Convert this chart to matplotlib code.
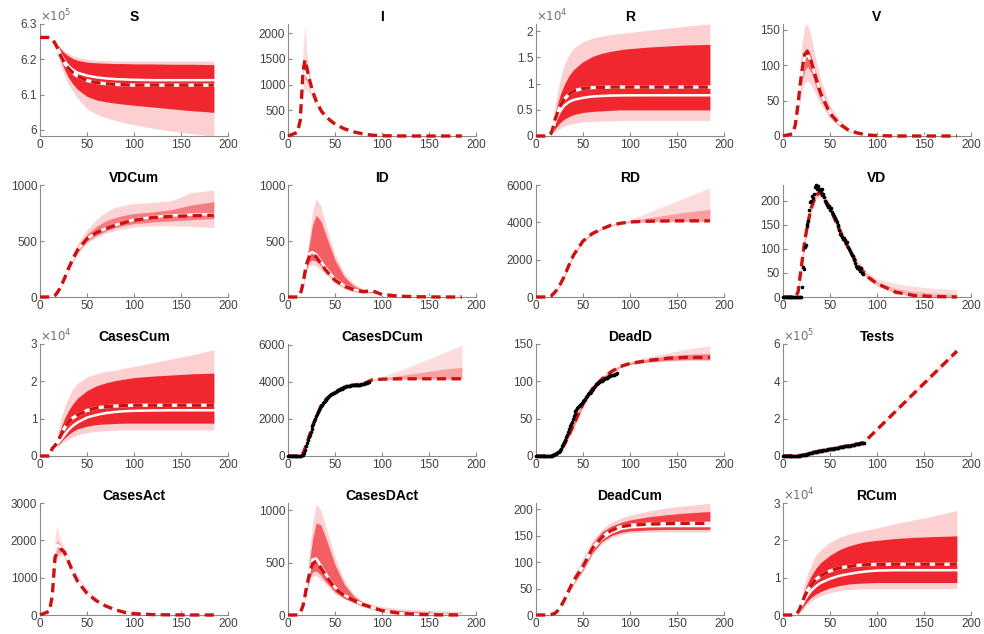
import matplotlib
matplotlib.use('Agg')
import matplotlib.pyplot as plt
import numpy as np
from matplotlib.ticker import FuncFormatter

plt.rcParams['font.family'] = ['Liberation Sans', 'DejaVu Sans']

# common time grid (days) for the model curves
T = [0, 10, 13, 16, 18, 20, 23, 26, 30, 35, 40, 50, 60, 70, 80, 90, 100, 120, 140, 160, 185]

# ---- model curves: mean (dashed), median (white), inner and outer envelopes ----
# S, in 1e5
S_mean = [6.262, 6.262, 6.258, 6.245, 6.235, 6.222, 6.205, 6.19, 6.175, 6.162, 6.152, 6.14, 6.134, 6.131, 6.129, 6.128, 6.127, 6.127, 6.127, 6.127, 6.127]
S_med = [6.262, 6.262, 6.258, 6.246, 6.237, 6.226, 6.21, 6.196, 6.182, 6.17, 6.162, 6.154, 6.149, 6.146, 6.144, 6.143, 6.142, 6.141, 6.141, 6.141, 6.141]
S_hi2 = [6.262, 6.262, 6.26, 6.252, 6.246, 6.24, 6.232, 6.225, 6.217, 6.21, 6.205, 6.2, 6.197, 6.196, 6.195, 6.195, 6.195, 6.195, 6.195, 6.195, 6.195]
S_hi1 = [6.262, 6.262, 6.259, 6.25, 6.243, 6.236, 6.226, 6.218, 6.21, 6.202, 6.197, 6.192, 6.19, 6.189, 6.188, 6.188, 6.187, 6.187, 6.186, 6.186, 6.185]
S_lo1 = [6.262, 6.262, 6.256, 6.24, 6.228, 6.215, 6.192, 6.172, 6.15, 6.13, 6.115, 6.095, 6.085, 6.08, 6.076, 6.073, 6.07, 6.065, 6.06, 6.055, 6.05]
S_lo2 = [6.262, 6.262, 6.255, 6.235, 6.22, 6.2, 6.175, 6.155, 6.13, 6.11, 6.09, 6.06, 6.045, 6.035, 6.027, 6.02, 6.015, 6.005, 5.997, 5.99, 5.983]

I_mean = [0, 70, 300, 1250, 1480, 1330, 1080, 880, 680, 500, 380, 230, 140, 80, 40, 15, 5, 1, 0, 0, 0]
I_med = [0, 65, 280, 1000, 1250, 1220, 1050, 880, 690, 510, 390, 235, 140, 80, 40, 15, 5, 1, 0, 0, 0]
I_hi2 = [0, 75, 350, 1700, 2150, 1650, 1250, 1000, 760, 560, 420, 260, 160, 95, 50, 22, 9, 3, 1, 1, 1]
I_hi1 = [0, 70, 310, 1300, 1500, 1400, 1120, 920, 710, 520, 400, 245, 150, 85, 44, 18, 7, 2, 0, 0, 0]
I_lo1 = [0, 60, 240, 900, 1100, 1080, 950, 800, 630, 470, 360, 220, 130, 75, 36, 13, 4, 1, 0, 0, 0]
I_lo2 = [0, 50, 200, 750, 900, 900, 830, 720, 580, 440, 340, 205, 120, 68, 32, 11, 3, 0, 0, 0, 0]

# R, in 1e4
R_mean = [0, 0, 0, 0.05, 0.15, 0.3, 0.45, 0.58, 0.7, 0.8, 0.86, 0.91, 0.925, 0.93, 0.935, 0.935, 0.935, 0.935, 0.935, 0.935, 0.935]
R_med = [0, 0, 0, 0.04, 0.12, 0.25, 0.38, 0.48, 0.58, 0.65, 0.69, 0.73, 0.755, 0.765, 0.772, 0.776, 0.777, 0.778, 0.778, 0.778, 0.778]
R_hi2 = [0, 0, 0, 0.15, 0.35, 0.55, 0.85, 1.1, 1.35, 1.55, 1.68, 1.8, 1.87, 1.91, 1.94, 1.96, 1.98, 2.02, 2.06, 2.1, 2.14]
R_hi1 = [0, 0, 0, 0.12, 0.27, 0.42, 0.62, 0.8, 0.98, 1.15, 1.27, 1.42, 1.52, 1.58, 1.62, 1.65, 1.67, 1.7, 1.72, 1.74, 1.75]
R_lo1 = [0, 0, 0, 0.03, 0.08, 0.13, 0.2, 0.26, 0.32, 0.37, 0.41, 0.45, 0.47, 0.48, 0.49, 0.5, 0.5, 0.5, 0.5, 0.5, 0.5]
R_lo2 = [0, 0, 0, 0.02, 0.05, 0.08, 0.12, 0.15, 0.19, 0.22, 0.24, 0.27, 0.28, 0.29, 0.29, 0.3, 0.3, 0.3, 0.3, 0.3, 0.3]

V_mean = [0, 3, 15, 45, 70, 90, 115, 119, 105, 82, 60, 32, 17, 8, 4, 1.5, 0.5, 0, 0, 0, 0]
V_med = [0, 2, 12, 40, 63, 86, 110, 116, 104, 82, 61, 33, 18, 9, 4, 1.5, 0.5, 0, 0, 0, 0]
V_hi2 = [0, 4, 20, 62, 98, 128, 155, 158, 140, 108, 80, 43, 23, 12, 6, 3, 1.5, 0.5, 0, 0, 0]
V_hi1 = [0, 3, 16, 50, 78, 100, 122, 124, 112, 88, 66, 36, 19, 10, 5, 2, 1, 0, 0, 0, 0]
V_lo1 = [0, 2, 10, 36, 56, 76, 93, 98, 90, 70, 53, 28, 15, 7, 3, 1, 0.3, 0, 0, 0, 0]
V_lo2 = [0, 1.5, 7, 28, 45, 62, 75, 78, 72, 58, 45, 24, 13, 6, 2.5, 0.8, 0.2, 0, 0, 0, 0]

VDCum_mean = [0, 0, 0, 15, 35, 60, 110, 165, 250, 340, 420, 520, 575, 610, 640, 665, 685, 710, 720, 725, 730]
VDCum_med = [0, 0, 0, 15, 35, 60, 110, 165, 250, 340, 420, 520, 575, 612, 642, 668, 690, 715, 728, 735, 740]
VDCum_hi2 = [0, 0, 0, 25, 50, 85, 145, 210, 300, 400, 480, 600, 690, 760, 800, 820, 835, 845, 860, 930, 955]
VDCum_hi1 = [0, 0, 0, 20, 42, 72, 128, 188, 275, 370, 450, 560, 630, 680, 710, 730, 745, 760, 780, 820, 850]
VDCum_lo1 = [0, 0, 0, 12, 30, 52, 100, 155, 235, 320, 400, 500, 550, 590, 620, 640, 655, 670, 680, 690, 700]
VDCum_lo2 = [0, 0, 0, 10, 25, 45, 92, 145, 225, 305, 385, 480, 530, 570, 595, 610, 625, 635, 635, 630, 620]

ID_mean = [0, 0, 20, 120, 220, 300, 370, 380, 360, 300, 240, 150, 95, 65, 48, 55, 22, 6, 2, 0, 0]
ID_med = [0, 0, 20, 130, 240, 320, 390, 400, 380, 320, 260, 160, 100, 65, 48, 55, 22, 6, 2, 0, 0]
ID_hi2 = [0, 0, 30, 160, 280, 380, 560, 760, 880, 810, 650, 380, 210, 120, 75, 65, 40, 25, 20, 15, 12]
ID_hi1 = [0, 0, 25, 140, 250, 340, 480, 640, 730, 680, 560, 330, 180, 100, 62, 58, 32, 15, 10, 6, 4]
ID_lo1 = [0, 0, 15, 100, 190, 260, 320, 330, 320, 280, 230, 140, 85, 52, 38, 42, 18, 4, 1, 0, 0]
ID_lo2 = [0, 0, 10, 80, 160, 230, 280, 290, 275, 240, 200, 120, 72, 45, 30, 35, 14, 2, 0, 0, 0]

RD_mean = [0, 0, 0, 40, 150, 250, 450, 700, 1100, 1700, 2250, 3000, 3400, 3650, 3850, 3950, 4020, 4060, 4075, 4080, 4080]
RD_hi2 = [0, 0, 0, 60, 180, 300, 520, 780, 1200, 1800, 2350, 3080, 3470, 3720, 3900, 4020, 4150, 4550, 4950, 5350, 5850]
RD_hi1 = [0, 0, 0, 50, 165, 275, 485, 740, 1150, 1750, 2300, 3040, 3430, 3680, 3870, 3980, 4080, 4250, 4400, 4550, 4700]
RD_lo1 = [0, 0, 0, 30, 135, 225, 420, 660, 1050, 1650, 2200, 2960, 3370, 3620, 3830, 3930, 4000, 4040, 4050, 4050, 4050]
RD_lo2 = [0, 0, 0, 20, 120, 200, 390, 620, 1000, 1600, 2150, 2920, 3340, 3600, 3810, 3910, 3980, 4020, 4030, 4030, 4030]

VD_mean = [0, 0, 0, 10, 40, 70, 115, 150, 185, 212, 218, 185, 140, 100, 65, 42, 28, 10, 3, 1, 0]
VD_hi2 = [0, 0, 0, 18, 52, 85, 130, 165, 197, 222, 228, 196, 150, 110, 75, 52, 38, 28, 22, 18, 15]
VD_hi1 = [0, 0, 0, 14, 46, 78, 122, 157, 191, 217, 223, 191, 145, 105, 70, 47, 32, 18, 12, 8, 6]
VD_lo1 = [0, 0, 0, 7, 35, 62, 108, 143, 179, 207, 213, 179, 135, 96, 61, 38, 25, 8, 2, 0, 0]
VD_lo2 = [0, 0, 0, 4, 28, 55, 100, 135, 173, 202, 208, 174, 130, 92, 57, 35, 22, 6, 1, 0, 0]

# CasesCum, in 1e4
CC_mean = [0, 0, 0.2, 0.28, 0.36, 0.45, 0.6, 0.75, 0.9, 1.02, 1.1, 1.22, 1.29, 1.32, 1.34, 1.35, 1.36, 1.36, 1.36, 1.36, 1.36]
CC_med = [0, 0, 0.2, 0.26, 0.31, 0.37, 0.46, 0.56, 0.69, 0.81, 0.9, 1.03, 1.1, 1.15, 1.18, 1.2, 1.21, 1.22, 1.225, 1.225, 1.225]
CC_hi2 = [0, 0, 0.2, 0.34, 0.5, 0.75, 1.05, 1.3, 1.55, 1.8, 1.95, 2.12, 2.2, 2.26, 2.3, 2.35, 2.4, 2.5, 2.6, 2.7, 2.85]
CC_hi1 = [0, 0, 0.2, 0.31, 0.42, 0.58, 0.8, 1.0, 1.2, 1.4, 1.55, 1.75, 1.88, 1.96, 2.02, 2.06, 2.1, 2.14, 2.17, 2.2, 2.22]
CC_lo1 = [0, 0, 0.2, 0.25, 0.28, 0.32, 0.4, 0.48, 0.57, 0.66, 0.73, 0.8, 0.84, 0.86, 0.87, 0.88, 0.88, 0.88, 0.88, 0.88, 0.88]
CC_lo2 = [0, 0, 0.2, 0.24, 0.26, 0.28, 0.33, 0.39, 0.45, 0.52, 0.57, 0.63, 0.66, 0.68, 0.69, 0.7, 0.7, 0.7, 0.7, 0.7, 0.7]

CDC_mean = [0, 0, 20, 150, 400, 650, 1150, 1600, 2100, 2700, 3050, 3450, 3720, 3830, 3900, 4120, 4150, 4170, 4170, 4170, 4170]
CDC_hi2 = [0, 0, 30, 200, 460, 720, 1230, 1680, 2180, 2780, 3130, 3530, 3800, 3900, 3980, 4160, 4290, 4650, 5050, 5450, 6000]
CDC_hi1 = [0, 0, 25, 175, 430, 685, 1190, 1640, 2140, 2740, 3090, 3490, 3760, 3865, 3940, 4130, 4200, 4350, 4500, 4650, 4800]
CDC_lo1 = [0, 0, 15, 125, 370, 615, 1110, 1560, 2060, 2660, 3010, 3410, 3680, 3795, 3860, 4110, 4140, 4160, 4160, 4160, 4160]
CDC_lo2 = [0, 0, 10, 100, 340, 580, 1070, 1520, 2020, 2620, 2970, 3370, 3640, 3760, 3820, 4100, 4130, 4150, 4150, 4150, 4150]

DD_mean = [0, 0, 0, 0, 1, 2, 4, 8, 15, 28, 42, 70, 90, 103, 113, 120, 124, 128, 131, 132, 132]
DD_hi2 = [0, 0, 0, 0.5, 2, 3, 6, 11, 19, 33, 48, 76, 95, 107, 116, 122, 127, 133, 138, 143, 148]
DD_hi1 = [0, 0, 0, 0.3, 1.5, 2.5, 5, 9, 17, 30, 45, 73, 92, 105, 114, 121, 125, 130, 134, 136, 137]
DD_lo1 = [0, 0, 0, 0, 0.5, 1.5, 3, 7, 13, 26, 39, 67, 88, 101, 112, 119, 123, 126, 128, 129, 129]
DD_lo2 = [0, 0, 0, 0, 0, 1, 2, 5, 11, 23, 36, 64, 85, 99, 110, 118, 122, 125, 127, 128, 128]

# Tests, in 1e5, own time points
Tests_t = [0, 20, 30, 40, 50, 60, 70, 80, 86, 185]
Tests_mean = [0, 0.03, 0.17, 0.28, 0.36, 0.46, 0.55, 0.65, 0.72, 5.62]
Tests_hi = [0, 0.04, 0.19, 0.3, 0.38, 0.48, 0.57, 0.67, 0.75, 5.72]
Tests_lo = [0, 0.02, 0.15, 0.26, 0.34, 0.44, 0.53, 0.63, 0.69, 5.52]

CA_mean = [0, 100, 500, 1550, 1650, 1720, 1760, 1680, 1450, 1150, 900, 580, 380, 240, 140, 70, 35, 10, 3, 0, 0]
CA_med = [0, 100, 500, 1700, 1880, 1850, 1800, 1700, 1500, 1180, 920, 590, 385, 240, 140, 70, 35, 10, 3, 0, 0]
CA_hi2 = [0, 110, 600, 2100, 2400, 2150, 1950, 1820, 1600, 1300, 1050, 700, 460, 290, 190, 125, 95, 60, 42, 32, 25]
CA_hi1 = [0, 105, 550, 1850, 2000, 1950, 1850, 1750, 1540, 1220, 960, 620, 400, 255, 155, 85, 50, 22, 12, 8, 5]
CA_lo1 = [0, 95, 450, 1450, 1620, 1650, 1680, 1600, 1400, 1110, 870, 560, 365, 230, 133, 65, 30, 8, 2, 0, 0]
CA_lo2 = [0, 90, 400, 1300, 1500, 1550, 1600, 1520, 1340, 1060, 830, 530, 345, 215, 125, 60, 25, 6, 1, 0, 0]

CDA_mean = [0, 0, 20, 90, 180, 280, 400, 490, 510, 450, 380, 255, 185, 140, 100, 70, 42, 15, 5, 1, 0]
CDA_med = [0, 0, 20, 95, 190, 300, 430, 530, 540, 470, 395, 265, 190, 142, 100, 70, 42, 15, 5, 1, 0]
CDA_hi2 = [0, 0, 30, 120, 230, 360, 620, 860, 1060, 1000, 850, 550, 330, 200, 130, 100, 80, 60, 50, 40, 35]
CDA_hi1 = [0, 0, 25, 105, 205, 320, 520, 720, 880, 860, 740, 480, 290, 180, 115, 85, 60, 40, 30, 22, 18]
CDA_lo1 = [0, 0, 15, 75, 160, 250, 350, 410, 420, 380, 320, 220, 160, 120, 85, 58, 35, 12, 3, 0, 0]
CDA_lo2 = [0, 0, 10, 60, 140, 230, 320, 370, 375, 340, 290, 200, 150, 110, 75, 50, 30, 8, 2, 0, 0]

DC_mean = [0, 0, 0, 1, 2, 3, 8, 15, 28, 47, 65, 92, 126, 147, 160, 167, 170, 172, 173, 173.5, 173.5]
DC_med = [0, 0, 0, 1, 2, 3, 8, 15, 28, 47, 65, 92, 124, 144, 156, 163, 166, 168, 168.5, 168.5, 168.5]
DC_hi2 = [0, 0, 0, 1, 3, 5, 11, 20, 34, 55, 75, 108, 142, 162, 175, 183, 189, 197, 203, 207, 211]
DC_hi1 = [0, 0, 0, 1, 2.5, 4, 10, 18, 31, 51, 70, 100, 135, 157, 168, 175, 180, 186, 190, 193, 196]
DC_lo1 = [0, 0, 0, 1, 1.5, 2.5, 7, 13, 25, 43, 60, 86, 118, 139, 150, 156, 159, 161, 162, 162, 162]
DC_lo2 = [0, 0, 0, 0.5, 1, 2, 6, 11, 22, 40, 57, 82, 114, 135, 146, 152, 155, 157, 157, 157, 157]

# RCum, in 1e4
RC_mean = [0, 0, 0, 0.08, 0.18, 0.3, 0.5, 0.65, 0.8, 0.95, 1.05, 1.18, 1.26, 1.3, 1.33, 1.35, 1.355, 1.36, 1.36, 1.36, 1.36]
RC_med = [0, 0, 0, 0.06, 0.15, 0.25, 0.4, 0.52, 0.65, 0.77, 0.86, 0.97, 1.05, 1.1, 1.14, 1.17, 1.19, 1.2, 1.2, 1.2, 1.2]
RC_hi2 = [0, 0, 0, 0.1, 0.3, 0.55, 0.85, 1.1, 1.35, 1.6, 1.75, 1.95, 2.08, 2.17, 2.23, 2.28, 2.33, 2.45, 2.55, 2.65, 2.8]
RC_hi1 = [0, 0, 0, 0.08, 0.24, 0.42, 0.65, 0.85, 1.05, 1.25, 1.4, 1.6, 1.75, 1.85, 1.92, 1.97, 2.0, 2.05, 2.08, 2.1, 2.12]
RC_lo1 = [0, 0, 0, 0.03, 0.1, 0.17, 0.28, 0.37, 0.47, 0.56, 0.63, 0.73, 0.79, 0.83, 0.85, 0.86, 0.87, 0.87, 0.87, 0.87, 0.87]
RC_lo2 = [0, 0, 0, 0.02, 0.07, 0.13, 0.21, 0.29, 0.37, 0.45, 0.51, 0.6, 0.65, 0.68, 0.7, 0.71, 0.71, 0.71, 0.71, 0.71, 0.71]

# ---- observed daily data (day 0 onwards) ----
VD_obs = [0] * 20 + [21, 62, 58, 105, 108, 148, 152, 158, 180, 198,
                     200, 210, 205, 215, 228, 232, 225, 230, 222, 225,
                     218, 224, 212, 215, 208, 200, 196, 192, 188, 190,
                     182, 185, 176, 172, 168, 165, 160, 155, 150, 148,
                     140, 132, 128, 125, 120, 122, 118, 112, 115, 105,
                     100, 96, 92, 88, 85, 80, 76, 70, 64, 60,
                     62, 58, 55, 60, 50, 48]
CDC_obs = [0, 0, 0, 0, 0, 0, 0, 0, 0, 0, 0, 5, 10, 15, 20, 40,
           60, 150, 350, 550, 700, 850, 1000, 1150, 1300, 1450,
           1600, 1750, 1900, 2020, 2140, 2260, 2380, 2490, 2590, 2680,
           2770, 2850, 2920, 2990, 3050, 3110, 3160, 3210, 3260, 3300,
           3330, 3360, 3390, 3420, 3450, 3480, 3510, 3540, 3570, 3600,
           3620, 3640, 3670, 3700, 3720, 3740, 3755, 3770, 3780, 3790,
           3800, 3810, 3815, 3820, 3825, 3830, 3835, 3840, 3845, 3848,
           3850, 3855, 3865, 3880, 3895, 3910, 3925, 3940, 3960, 3980,
           4000]
DD_obs = [0] * 18 + [1, 2, 3, 3, 4, 5, 6, 7, 8, 10,
                     13, 16, 19, 22, 25, 28, 32, 36, 40, 43,
                     46, 50, 53, 56, 60, 62, 64, 66, 67, 68,
                     69, 71, 73, 75, 77, 79, 81, 83, 84, 85,
                     86, 87, 88, 90, 92, 94, 96, 97, 98, 99,
                     100, 101, 101, 102, 103, 104, 104, 105, 105, 106,
                     107, 107, 108, 108, 109, 109, 110, 110, 111]
Tests_obs = [0, 0, 0, 0, 0, 0, 0, 0, 0.005, 0.005, 0.01, 0.01, 0.01, 0.015, 0.015, 0.02, 0.02, 0.02, 0.025, 0.03,
             0.04, 0.05, 0.06, 0.07, 0.08, 0.1, 0.11, 0.13, 0.14, 0.16,
             0.17, 0.18, 0.2, 0.21, 0.22, 0.23, 0.24, 0.25, 0.26, 0.27,
             0.28, 0.29, 0.3, 0.3, 0.31, 0.32, 0.33, 0.34, 0.35, 0.35,
             0.36, 0.37, 0.38, 0.39, 0.4, 0.41, 0.42, 0.43, 0.44, 0.45,
             0.46, 0.47, 0.48, 0.49, 0.5, 0.51, 0.52, 0.53, 0.53, 0.54,
             0.55, 0.56, 0.57, 0.58, 0.59, 0.6, 0.61, 0.62, 0.63, 0.64,
             0.65, 0.66, 0.67, 0.68, 0.69, 0.7, 0.72]

# panel specs: bands are (lower, upper, alpha)
panels = [
    dict(title='S', mean=S_mean, med=S_med, bands=[(S_lo2, S_hi2, 0.2), (S_lo1, S_hi1, 0.88)],
         ylim=(5.983, 6.3), yticks=[6, 6.1, 6.2, 6.3], exp=5, under=True),
    dict(title='I', mean=I_mean, med=I_med, bands=[(I_lo2, I_hi2, 0.15), (I_lo1, I_hi1, 0.35)],
         ylim=(0, 2180), yticks=[0, 500, 1000, 1500, 2000]),
    dict(title='R', mean=R_mean, med=R_med, bands=[(R_lo2, R_hi2, 0.2), (R_lo1, R_hi1, 0.88)],
         ylim=(0, 2.14), yticks=[0, 0.5, 1, 1.5, 2], exp=4, under=True),
    dict(title='V', mean=V_mean, med=V_med, bands=[(V_lo2, V_hi2, 0.18), (V_lo1, V_hi1, 0.55)],
         ylim=(0, 158), yticks=[0, 50, 100, 150]),
    dict(title='VDCum', mean=VDCum_mean, med=VDCum_med, bands=[(VDCum_lo2, VDCum_hi2, 0.18), (VDCum_lo1, VDCum_hi1, 0.45)],
         ylim=(0, 1000), yticks=[0, 500, 1000]),
    dict(title='ID', mean=ID_mean, med=ID_med, bands=[(ID_lo2, ID_hi2, 0.18), (ID_lo1, ID_hi1, 0.6)],
         ylim=(0, 1000), yticks=[0, 500, 1000]),
    dict(title='RD', mean=RD_mean, bands=[(RD_lo2, RD_hi2, 0.14), (RD_lo1, RD_hi1, 0.3)],
         ylim=(0, 6000), yticks=[0, 2000, 4000, 6000]),
    dict(title='VD', mean=VD_mean, bands=[(VD_lo2, VD_hi2, 0.14), (VD_lo1, VD_hi1, 0.2)],
         ylim=(0, 233), yticks=[0, 50, 100, 150, 200], obs=VD_obs),
    dict(title='CasesCum', mean=CC_mean, med=CC_med, bands=[(CC_lo2, CC_hi2, 0.2), (CC_lo1, CC_hi1, 0.88)],
         ylim=(0, 3), yticks=[0, 1, 2, 3], exp=4, under=True),
    dict(title='CasesDCum', mean=CDC_mean, bands=[(CDC_lo2, CDC_hi2, 0.14), (CDC_lo1, CDC_hi1, 0.3)],
         ylim=(0, 6050), yticks=[0, 2000, 4000, 6000], obs=CDC_obs),
    dict(title='DeadD', mean=DD_mean, bands=[(DD_lo2, DD_hi2, 0.16), (DD_lo1, DD_hi1, 0.45)],
         ylim=(0, 150), yticks=[0, 50, 100, 150], obs=DD_obs),
    dict(title='Tests', t=Tests_t, mean=Tests_mean, bands=[(Tests_lo, Tests_hi, 0.2)],
         ylim=(0, 6), yticks=[0, 2, 4, 6], exp=5, obs=Tests_obs),
    dict(title='CasesAct', mean=CA_mean, med=CA_med, bands=[(CA_lo2, CA_hi2, 0.15), (CA_lo1, CA_hi1, 0.3)],
         ylim=(0, 3000), yticks=[0, 1000, 2000, 3000]),
    dict(title='CasesDAct', mean=CDA_mean, med=CDA_med, bands=[(CDA_lo2, CDA_hi2, 0.18), (CDA_lo1, CDA_hi1, 0.6)],
         ylim=(0, 1070), yticks=[0, 500, 1000]),
    dict(title='DeadCum', mean=DC_mean, med=DC_med, bands=[(DC_lo2, DC_hi2, 0.2), (DC_lo1, DC_hi1, 0.75)],
         ylim=(0, 212), yticks=[0, 50, 100, 150, 200], under=True),
    dict(title='RCum', mean=RC_mean, med=RC_med, bands=[(RC_lo2, RC_hi2, 0.2), (RC_lo1, RC_hi1, 0.88)],
         ylim=(0, 3), yticks=[0, 1, 2, 3], exp=4, under=True),
]

W, H = 984, 634
fig = plt.figure(figsize=(W / 100, H / 100), dpi=100)

col_left = [40, 288, 536, 783]   # px
row_top = [24, 185, 344, 503]    # px
ax_w, ax_h = 188, 112

axis_gray = '#8a8a8a'
text_gray = '#404040'
fmt = FuncFormatter(lambda v, pos: '%g' % v)

for i, p in enumerate(panels):
    r, c = divmod(i, 4)
    ax = fig.add_axes([col_left[c] / W, 1 - (row_top[r] + ax_h) / H, ax_w / W, ax_h / H])
    t = p.get('t', T)

    for lo, hi, a in p['bands']:
        ax.fill_between(t, lo, hi, color='#f0101a', alpha=a, lw=0)

    if p.get('med') is not None:
        ax.plot(t, p['med'], color='white', lw=1.8, zorder=3)
    if p.get('under'):
        ax.plot(t, p['mean'], color='white', lw=2.4, zorder=4)
    ax.plot(t, p['mean'], color='#cc1111', lw=2.4, dashes=(2.8, 1.6), zorder=5, clip_on=False)

    if p.get('obs') is not None:
        ax.plot(np.arange(len(p['obs'])), p['obs'], '.', color='black', ms=3.2, zorder=6, clip_on=False)

    ax.set_xlim(0, 200)
    ax.set_xticks([0, 50, 100, 150, 200])
    ax.set_ylim(*p['ylim'])
    ax.set_yticks(p['yticks'])
    ax.yaxis.set_major_formatter(fmt)
    for s in ['top', 'right']:
        ax.spines[s].set_visible(False)
    for s in ['left', 'bottom']:
        ax.spines[s].set_color(axis_gray)
        ax.spines[s].set_linewidth(0.8)
    ax.tick_params(direction='in', length=3, width=0.8, color=axis_gray,
                   labelcolor=text_gray, labelsize=8.5, pad=2)
    ax.set_title(p['title'], fontsize=10, fontweight='bold', color='black', pad=2)
    if p.get('exp'):
        ax.text(0.0, 1.0, r'$\times10^{%d}$' % p['exp'], transform=ax.transAxes,
                ha='left', va='bottom', fontsize=8.5, color='#707070')

fig.savefig('out.png', dpi=100)
